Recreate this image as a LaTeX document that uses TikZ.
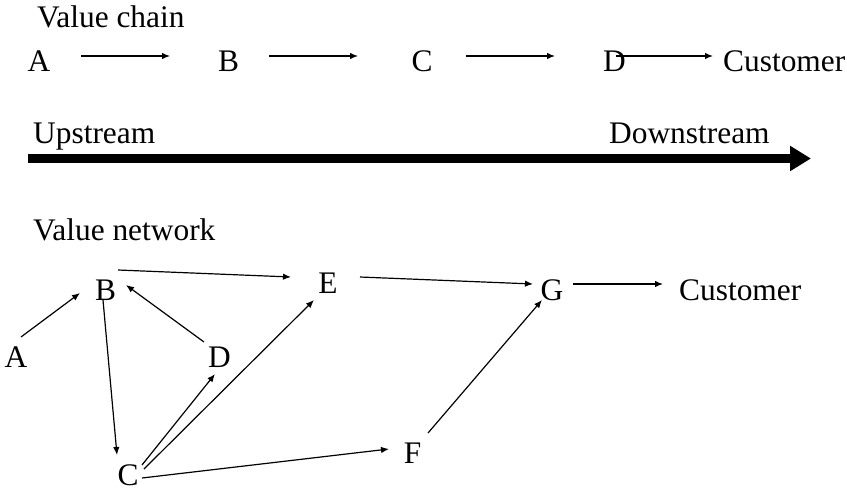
\documentclass[tikz,border=0pt]{standalone}
\usepackage{fontspec}
\setmainfont{Liberation Serif}
\usetikzlibrary{arrows.meta,calc}
\begin{document}
\begin{tikzpicture}[x=1pt,y=-1pt,
  lbl/.style={inner sep=0pt,anchor=base,font=\fontsize{31.4}{36}\selectfont},
  lblw/.style={lbl,anchor=base west},
  conn/.style={line width=1.2pt,-{Latex[length=8pt,width=6.5pt]}},
  bigarrow/.style={line width=9pt,-{Triangle[length=21pt,width=24pt]}}]
\useasboundingbox (0,0) rectangle (847,490);
% Value chain
\node[lblw] (vctitle) at (37,27) {Value chain};
\node[lbl] (vcA) at (39,71) {A};
\node[lbl] (vcB) at (228.5,71) {B};
\node[lbl] (vcC) at (422,71) {C};
\node[lbl] (vcD) at (614.5,71) {D};
\node[lblw] (vcCust) at (723,71) {Customer};
\draw[conn] ($(vcA.base)+(42,-15)$) -- ($(vcB.base)+(-58.5,-15)$);
\draw[conn] ($(vcB.base)+(40.5,-15)$) -- ($(vcC.base)+(-64,-15)$);
\draw[conn] ($(vcC.base)+(44,-15)$) -- ($(vcD.base)+(-59.5,-15)$);
\draw[conn] ($(vcD.base)+(1.5,-15)$) -- ($(vcCust.base west)+(-10,-15)$);
% Upstream / downstream
\node[lblw] (up) at (33,143) {Upstream};
\node[lblw] (down) at (609,143) {Downstream};
\coordinate (bs) at (28,158.5);
\coordinate (be) at (811,158.5);
\draw[bigarrow] (bs) -- (be);
% Value network
\node[lblw] (vntitle) at (33,240) {Value network};
\node[lbl] (nA) at (16,367) {A};
\node[lbl] (nB) at (105.5,300) {B};
\node[lbl] (nC) at (128,485) {C};
\node[lbl] (nD) at (219.5,367) {D};
\node[lbl] (nE) at (328,293) {E};
\node[lbl] (nF) at (412.5,463) {F};
\node[lbl] (nG) at (552,300) {G};
\node[lblw] (nCust) at (679,300) {Customer};
\draw[conn] ($(nA.base)+(5,-30)$) -- ($(nB.base)+(-25.5,-7)$);
\draw[conn] ($(nB.base)+(12.5,-30)$) -- ($(nE.base)+(-37,-16)$);
\draw[conn] ($(nD.base)+(-15.5,-25)$) -- ($(nB.base)+(20.5,-15)$);
\draw[conn] ($(nB.base)+(-2.5,0)$) -- ($(nC.base)+(-11,-30)$);
\draw[conn] ($(nC.base)+(14,-20)$) -- ($(nD.base)+(-4.5,7)$);
\draw[conn] ($(nC.base)+(16,-16)$) -- ($(nE.base)+(-14,7)$);
\draw[conn] ($(nC.base)+(14,-7)$) -- ($(nF.base)+(-23.5,-14)$);
\draw[conn] ($(nE.base)+(32,-16)$) -- ($(nG.base)+(-19,-16)$);
\draw[conn] ($(nF.base)+(15.5,-30)$) -- ($(nG.base)+(-10,0)$);
\draw[conn] ($(nG.base)+(21,-16)$) -- ($(nCust.base west)+(-16,-16)$);
\end{tikzpicture}
\end{document}
